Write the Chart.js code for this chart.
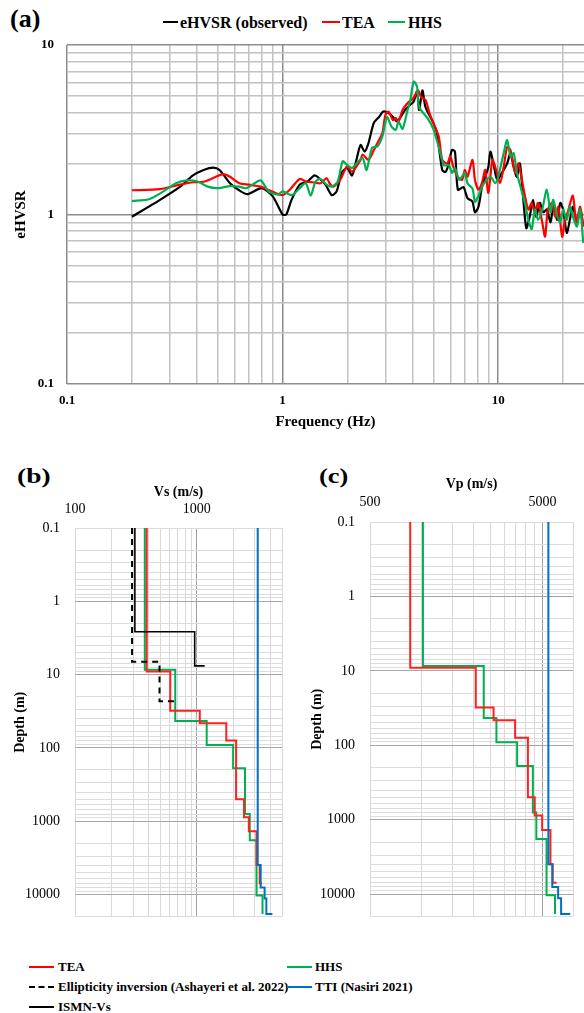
<!DOCTYPE html>
<html>
<head>
<meta charset="utf-8">
<script src="https://cdn.jsdelivr.net/npm/chart.js@4.4.0/dist/chart.umd.min.js"></script>
<style>
  body { margin: 0; width: 584px; height: 1013px; position: relative; background: #fff; overflow: hidden;
         font-family: "Liberation Serif", "Times New Roman", serif; color: #000; }
  canvas { position: absolute; }
  .tag { position: absolute; font-weight: bold; white-space: nowrap; transform-origin: left top; }
  .txt { position: absolute; font-weight: bold; white-space: nowrap; }
  .ln { position: absolute; height: 0; border-top: 2px solid; }
</style>
</head>
<body>

<div class="tag" style="left:10px; top:6px; font-size:26px; line-height:26px;">(a)</div>
<div class="tag" style="left:17px; top:465px; font-size:22px; line-height:22px; transform:scaleX(1.25);">(b)</div>
<div class="tag" style="left:319px; top:465px; font-size:22px; line-height:22px; transform:scaleX(1.2);">(c)</div>

<!-- legend (a) -->
<div class="ln" style="left:163px; top:21px; width:15px; border-color:#000;"></div>
<div class="txt" style="left:180px; top:15px; font-size:16px; line-height:16px;">eHVSR (observed)</div>
<div class="ln" style="left:322px; top:21px; width:18px; border-color:#ff0000;"></div>
<div class="txt" style="left:342px; top:15px; font-size:16px; line-height:16px;">TEA</div>
<div class="ln" style="left:388px; top:21px; width:17px; border-color:#00b050;"></div>
<div class="txt" style="left:408px; top:15px; font-size:16px; line-height:16px;">HHS</div>

<canvas id="hvsr" width="584" height="440" style="left:0; top:0;"></canvas>
<canvas id="vs" width="292" height="470" style="left:0; top:470px;"></canvas>
<canvas id="vp" width="292" height="470" style="left:292px; top:470px;"></canvas>

<!-- legend (b)/(c) -->
<div class="ln" style="left:29px; top:966px; width:25px; border-color:#ff0000;"></div>
<div class="txt" style="left:58px; top:960px; font-size:13px; line-height:13px;">TEA</div>
<div class="ln" style="left:287px; top:966px; width:25px; border-color:#00b050;"></div>
<div class="txt" style="left:315px; top:960px; font-size:13px; line-height:13px;">HHS</div>
<div class="ln" style="left:29px; top:986px; width:25px; border-top-style:dashed; border-color:#000;"></div>
<div class="txt" style="left:58px; top:980px; font-size:13px; line-height:13px;">Ellipticity inversion (Ashayeri et al. 2022)</div>
<div class="ln" style="left:287px; top:986px; width:25px; border-color:#0070c0;"></div>
<div class="txt" style="left:315px; top:980px; font-size:13px; line-height:13px;">TTI (Nasiri 2021)</div>
<div class="ln" style="left:29px; top:1006px; width:25px; border-color:#000;"></div>
<div class="txt" style="left:58px; top:1000px; font-size:13px; line-height:13px;">ISMN-Vs</div>

<script>
'use strict';

// ---------- (a) eHVSR curves ----------
const obsFreq = [0.2, 0.27, 0.335, 0.384, 0.43, 0.476, 0.51, 0.57, 0.64, 0.69, 0.8, 0.9, 1.0, 1.04, 1.1, 1.2, 1.3, 1.4, 1.45, 1.58,
  1.69, 1.78, 1.88, 1.99, 2.1, 2.2, 2.3, 2.4, 2.5, 2.65, 2.8, 2.93, 3.1, 3.25, 3.4, 3.5, 3.7, 3.9, 4.05, 4.2,
  4.3, 4.45, 4.6, 5.0, 5.2, 5.5, 5.7, 5.9, 6.1, 6.3, 6.5, 6.9, 7.2, 7.6, 7.8, 8.1, 8.4, 8.7, 9.0, 9.2,
  9.5, 9.9, 10.4, 11.0, 11.4, 11.8, 12.2, 12.6, 13.0, 13.5, 14.0, 14.5, 15.0, 15.6, 16.2, 16.8, 17.5, 18.0, 18.8, 19.4,
  20.0, 20.8, 21.5, 22.2, 23.2, 24.0, 24.8];
const obsHvsr = [0.97, 1.22, 1.46, 1.70, 1.83, 1.89, 1.83, 1.53, 1.37, 1.32, 1.43, 1.28, 1.0, 1.0, 1.22, 1.5, 1.56, 1.70, 1.67, 1.5,
  1.30, 1.37, 1.76, 1.88, 1.70, 2.1, 2.57, 2.35, 2.63, 3.47, 3.76, 4.05, 3.97, 3.76, 3.53, 3.7, 4.14, 4.43, 4.62, 5.3,
  4.14, 5.4, 4.3, 3.47, 3.0, 1.83, 1.78, 2.0, 2.4, 2.35, 1.4, 1.45, 1.25, 1.19, 1.03, 1.11, 1.45, 1.67, 1.9, 2.35,
  2.0, 1.6, 1.76, 2.0, 2.3, 1.9, 1.67, 2.0, 1.34, 0.83, 0.97, 1.22, 0.97, 1.17, 1.03, 1.07, 0.9, 1.11, 0.93, 1.17,
  1.07, 0.78, 0.93, 1.11, 0.9, 1.07, 0.85];

const teaFreq = [0.2, 0.27, 0.335, 0.385, 0.43, 0.476, 0.53, 0.57, 0.63, 0.7, 0.79, 0.9, 1.0, 1.08, 1.2, 1.29, 1.38, 1.5, 1.6, 1.65,
  1.72, 1.85, 1.99, 2.1, 2.3, 2.35, 2.5, 2.65, 2.8, 2.9, 3.0, 3.1, 3.25, 3.35, 3.45, 3.6, 3.85, 4.05, 4.25, 4.4,
  4.6, 4.8, 5.0, 5.3, 5.5, 5.8, 6.0, 6.2, 6.5, 6.8, 7.0, 7.2, 7.6, 7.8, 8.1, 8.4, 8.7, 9.0, 9.4, 9.7,
  10.2, 10.6, 11.0, 11.4, 12.0, 12.4, 12.8, 13.3, 13.8, 14.3, 14.8, 15.3, 16.0, 16.5, 17.0, 17.8, 18.4, 19.0, 19.8, 20.4,
  21.0, 22.2, 23.0, 24.0, 24.8];
const teaHvsr = [1.39, 1.41, 1.5, 1.55, 1.56, 1.64, 1.73, 1.67, 1.53, 1.5, 1.46, 1.36, 1.30, 1.40, 1.62, 1.56, 1.55, 1.53, 1.64, 1.53,
  1.46, 1.6, 1.92, 1.79, 2.1, 2.26, 2.1, 2.4, 2.75, 3.0, 3.88, 4.05, 3.6, 3.7, 3.53, 4.14, 4.62, 4.87, 5.4, 4.9,
  4.74, 3.97, 3.47, 2.88, 2.1, 2.0, 2.2, 1.9, 1.67, 1.6, 1.83, 1.67, 2.1, 1.6, 1.4, 1.53, 1.83, 1.34, 2.1, 1.9,
  1.53, 1.9, 2.5, 2.4, 1.76, 2.0, 1.67, 1.29, 1.07, 1.17, 1.03, 1.17, 0.9, 0.74, 1.07, 1.17, 0.97, 1.11, 0.74, 0.93,
  1.03, 1.29, 0.9, 1.11, 0.85];

const hhsFreq = [0.2, 0.24, 0.28, 0.32, 0.36, 0.4, 0.45, 0.5, 0.57, 0.63, 0.68, 0.79, 0.86, 0.95, 1.0, 1.1, 1.18, 1.28, 1.35, 1.42,
  1.5, 1.6, 1.69, 1.8, 1.9, 1.99, 2.1, 2.2, 2.35, 2.45, 2.6, 2.75, 2.9, 3.05, 3.2, 3.35, 3.45, 3.6, 3.8, 3.9,
  4.05, 4.2, 4.3, 4.7, 5.0, 5.3, 5.6, 5.9, 6.1, 6.3, 6.6, 7.0, 7.2, 7.6, 7.8, 8.1, 8.4, 8.7, 9.2, 9.7,
  10.0, 10.6, 11.0, 11.4, 11.8, 12.2, 12.8, 13.3, 13.8, 14.3, 14.8, 15.3, 16.0, 16.8, 17.5, 18.0, 18.8, 19.4, 20.0, 20.8,
  21.5, 22.2, 23.2, 24.0, 24.8];
const hhsHvsr = [1.2, 1.23, 1.37, 1.53, 1.59, 1.57, 1.46, 1.43, 1.47, 1.46, 1.43, 1.59, 1.37, 1.31, 1.37, 1.3, 1.4, 1.53, 1.29, 1.56,
  1.62, 1.5, 1.46, 1.56, 2.06, 1.96, 1.88, 2.0, 2.16, 1.83, 2.48, 2.52, 2.88, 3.76, 3.3, 3.16, 3.53, 3.2, 4.14, 4.62,
  6.07, 5.7, 4.3, 3.7, 3.2, 2.5, 1.95, 1.96, 1.76, 1.88, 1.6, 1.76, 1.53, 1.42, 1.19, 1.29, 1.45, 1.56, 1.67, 1.53,
  1.67, 2.3, 2.75, 2.2, 2.3, 1.76, 1.4, 1.17, 0.93, 0.82, 1.07, 0.93, 1.07, 1.4, 1.03, 1.22, 0.97, 0.9, 1.07, 0.93,
  1.11, 0.97, 0.85, 1.07, 0.68];

const freqLabels = [0.1, 1, 10];
const hvsrLabels = [0.1, 1, 10];

// ---------- (b), (c) velocity profiles (layer tops + velocities) ----------
const teaDepth = [0.1, 9.1, 31, 46, 79, 500, 880, 1370, 3950, 7000, 7000];
const teaVs = [388, 605, 1057, 1745, 2100, 2440, 2670, 3090, 3280, 3430];
const teaVp = [855, 2050, 2600, 3465, 4110, 4500, 4970, 5550, 5720, 6030];

const hhsDepth = [0.1, 8.6, 43, 91, 190, 800, 1820, 10300, 18500];
const hhsVs = [374, 665, 1205, 1985, 2485, 2720, 3090, 3460];
const hhsVp = [1013, 2280, 2700, 3560, 4390, 4600, 5270, 5900];

const ttiDepth = [0.1, 3950, 8000, 11300, 18500, 18500];
const ttiVs = [3160, 3340, 3600, 3720, 4170];
const ttiVp = [5400, 5690, 6150, 6400, 7230];

const ellDepth = [0.1, 6.7, 23, 23];
const ellVs = [294, 494, 650];

const ismnDepth = [0.1, 2.6, 7.6, 7.6];
const ismnVs = [310, 960, 1160];

const depthLabels = [0.1, 1, 10, 100, 1000, 10000];
const vsLabels = [100, 1000];
const vpLabels = [500, 5000];

// ---------- helpers ----------
const FONT = '"Liberation Serif", "Times New Roman", serif';

function pairs(xs, ys) {
    return xs.map((x, i) => ({ x: x, y: ys[i] }));
}

// staircase: each layer drawn from its top to the next top
function steps(depth, vel) {
    const pts = [];
    vel.forEach((v, i) => {
        pts.push({ x: v, y: depth[i] });
        pts.push({ x: v, y: depth[i + 1] });
    });
    return pts;
}

// gridlines at 1..9 x each labelled value (Excel style), clipped to max
function gridValues(labels, max) {
    const out = [];
    labels.forEach(m => {
        for (let k = 1; k <= 9; k++) {
            if (m * k <= max * 1.0001) out.push(m * k);
        }
    });
    if (out[out.length - 1] < max) out.push(max);
    return out;
}

function logAxis(opts) {
    const grid = gridValues(opts.labels, opts.gridMax);
    return {
        type: 'logarithmic',
        position: opts.position,
        reverse: !!opts.reverse,
        min: opts.min,
        max: opts.max,
        afterBuildTicks: function (scale) {
            scale.ticks = grid.map(v => ({ value: v }));
        },
        afterFit: function (scale) {
            if (opts.width) scale.width = opts.width;
            if (opts.height) scale.height = opts.height;
        },
        ticks: {
            autoSkip: false,
            maxRotation: 0,
            padding: opts.tickPad,
            color: '#000',
            font: { family: FONT, size: opts.tickSize, weight: opts.tickWeight },
            callback: function (value) {
                return opts.labels.some(m => Math.abs(m - value) < m * 1e-6) ? String(value) : '';
            }
        },
        grid: {
            drawTicks: false,
            lineWidth: opts.gridWidth,
            color: function (c) {
                const v = c.tick ? c.tick.value : 0;
                return opts.dark.some(m => Math.abs(m - v) < m * 1e-6) ? opts.majorColor : opts.minorColor;
            }
        },
        border: { display: false },
        title: {
            display: true,
            text: opts.title,
            color: '#000',
            font: { family: FONT, size: opts.titleSize, weight: 'bold' },
            padding: opts.titlePad
        }
    };
}

// ---------- chart (a) ----------
new Chart(document.getElementById('hvsr'), {
    type: 'line',
    data: {
        datasets: [
            { label: 'HHS', data: pairs(hhsFreq, hhsHvsr), borderColor: '#00b050', borderWidth: 2.2, pointRadius: 0, tension: 0.25 },
            { label: 'TEA', data: pairs(teaFreq, teaHvsr), borderColor: '#ff0000', borderWidth: 2.2, pointRadius: 0, tension: 0.25 },
            { label: 'eHVSR (observed)', data: pairs(obsFreq, obsHvsr), borderColor: '#000000', borderWidth: 2.2, pointRadius: 0, tension: 0.25 }
        ]
    },
    options: {
        responsive: false,
        animation: false,
        layout: { padding: { top: 45, right: 0, bottom: 0, left: 0 } },
        plugins: { legend: { display: false }, tooltip: { enabled: false } },
        scales: {
            x: logAxis({
                position: 'bottom', min: 0.1, max: 25, labels: freqLabels, gridMax: 20, height: 56,
                tickPad: 9, tickSize: 13, tickWeight: 'bold', gridWidth: 1.5,
                dark: freqLabels, majorColor: '#8c8c8c', minorColor: '#c2c2c2',
                title: 'Frequency (Hz)', titleSize: 15, titlePad: { top: 4, bottom: 9 }
            }),
            y: logAxis({
                position: 'left', min: 0.1, max: 10, labels: hvsrLabels, gridMax: 10, width: 67,
                tickPad: 13, tickSize: 13, tickWeight: 'bold', gridWidth: 1.5,
                dark: hvsrLabels, majorColor: '#8c8c8c', minorColor: '#c2c2c2',
                title: 'eHVSR', titleSize: 15, titlePad: { top: 12, bottom: 4 }
            })
        }
    }
});

// ---------- chart (b) Vs ----------
new Chart(document.getElementById('vs'), {
    type: 'line',
    data: {
        datasets: [
            { label: 'ISMN-Vs', data: steps(ismnDepth, ismnVs), borderColor: '#000000', borderWidth: 1.6, pointRadius: 0 },
            { label: 'Ellipticity inversion (Ashayeri et al. 2022)', data: steps(ellDepth, ellVs), borderColor: '#000000', borderWidth: 2, borderDash: [6, 5], pointRadius: 0 },
            { label: 'TTI (Nasiri 2021)', data: steps(ttiDepth, ttiVs), borderColor: '#0070c0', borderWidth: 2, pointRadius: 0 },
            { label: 'TEA', data: steps(teaDepth, teaVs), borderColor: '#ff2020', borderWidth: 2, pointRadius: 0 },
            { label: 'HHS', data: steps(hhsDepth, hhsVs), borderColor: '#00b050', borderWidth: 2, pointRadius: 0 }
        ]
    },
    options: {
        responsive: false,
        animation: false,
        layout: { padding: { top: 0, right: 5, bottom: 10, left: 0 } },
        plugins: { legend: { display: false }, tooltip: { enabled: false } },
        scales: {
            x: logAxis({
                position: 'top', min: 100, max: 5000, labels: vsLabels, gridMax: 5000, height: 58,
                tickPad: 10, tickSize: 14, tickWeight: 'normal', gridWidth: 1,
                dark: [1000], majorColor: '#a0a0a0', minorColor: '#d9d9d9',
                title: 'Vs (m/s)', titleSize: 14, titlePad: { top: 14, bottom: 2 }
            }),
            y: logAxis({
                position: 'left', reverse: true, min: 0.1, max: 20000, labels: depthLabels, gridMax: 20000, width: 75,
                tickPad: 15, tickSize: 14, tickWeight: 'normal', gridWidth: 1,
                dark: [1, 10, 100, 1000, 10000], majorColor: '#a6a6a6', minorColor: '#dcdcdc',
                title: 'Depth (m)', titleSize: 14, titlePad: { top: 12, bottom: 2 }
            })
        }
    }
});

// ---------- chart (c) Vp ----------
new Chart(document.getElementById('vp'), {
    type: 'line',
    data: {
        datasets: [
            { label: 'TTI (Nasiri 2021)', data: steps(ttiDepth, ttiVp), borderColor: '#0070c0', borderWidth: 2, pointRadius: 0 },
            { label: 'TEA', data: steps(teaDepth, teaVp), borderColor: '#ff2020', borderWidth: 2, pointRadius: 0 },
            { label: 'HHS', data: steps(hhsDepth, hhsVp), borderColor: '#00b050', borderWidth: 2, pointRadius: 0 }
        ]
    },
    options: {
        responsive: false,
        animation: false,
        layout: { padding: { top: 0, right: 6, bottom: 9, left: 0 } },
        plugins: { legend: { display: false }, tooltip: { enabled: false } },
        scales: {
            x: logAxis({
                position: 'top', min: 500, max: 7500, labels: vpLabels, gridMax: 7500, height: 52,
                tickPad: 11, tickSize: 14, tickWeight: 'normal', gridWidth: 1,
                dark: [5000], majorColor: '#a0a0a0', minorColor: '#d9d9d9',
                title: 'Vp (m/s)', titleSize: 14, titlePad: { top: 6, bottom: 2 }
            }),
            y: logAxis({
                position: 'left', reverse: true, min: 0.1, max: 20000, labels: depthLabels, gridMax: 20000, width: 78,
                tickPad: 15, tickSize: 14, tickWeight: 'normal', gridWidth: 1,
                dark: [1, 10, 100, 1000, 10000], majorColor: '#a6a6a6', minorColor: '#dcdcdc',
                title: 'Depth (m)', titleSize: 14, titlePad: { top: 17, bottom: 2 }
            })
        }
    }
});
</script>
</body>
</html>
